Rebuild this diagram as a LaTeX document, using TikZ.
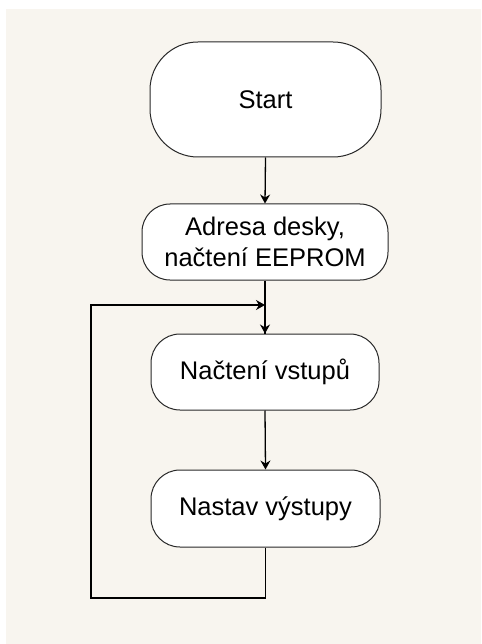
\documentclass[tikz,border=0pt]{standalone}
\usepackage{fontspec}
\setmainfont{Liberation Sans}
\usetikzlibrary{arrows.meta}
\definecolor{paper}{RGB}{248,245,239}
\definecolor{outline}{RGB}{40,40,40}
\begin{document}
\begin{tikzpicture}[x=1pt,y=-1pt,
  term/.style={draw=outline, line width=1pt, fill=white, inner sep=0pt,
    align=center, font=\fontsize{25.5}{31}\selectfont},
  flow/.style={line width=1.3pt, draw=black,
    -{Stealth[length=9pt,width=10pt,inset=3pt]}},
  plain/.style={line width=1.3pt, draw=black}]
  % page and background
  \fill[white] (0,0) rectangle (481,644);
  \fill[paper] (6,9) rectangle (481,644);
  \useasboundingbox (0,0) rectangle (481,644);

  % terminators
  \node[term, minimum width=231pt, minimum height=115pt, rounded corners=48pt]
    (start) at (265.5,99.5) {Start};
  \node[term, minimum width=246pt, minimum height=76pt, rounded corners=28pt]
    (addr) at (265,242) {Adresa desky,\\načtení EEPROM};
  \node[term, minimum width=228pt, minimum height=76pt, rounded corners=29pt]
    (read) at (265,372) {Načtení vstupů};
  \node[term, minimum width=229pt, minimum height=77pt, rounded corners=29pt]
    (set) at (265.5,508.5) {Nastav výstupy};

  % loop points
  \coordinate (join) at (265,305);
  \coordinate (bl) at (91,598);
  \coordinate (tl) at (91,305);

  % connectors
  \draw[flow] (start.south) -- (addr.north);
  \draw[plain] (addr.south) -- (read.north);
  \draw[flow] (join) -- (read.north);
  \draw[flow] (read.south) -- (set.north);
  \draw[flow] (set.south) |- (bl) -- (tl) -- (join);
\end{tikzpicture}
\end{document}
